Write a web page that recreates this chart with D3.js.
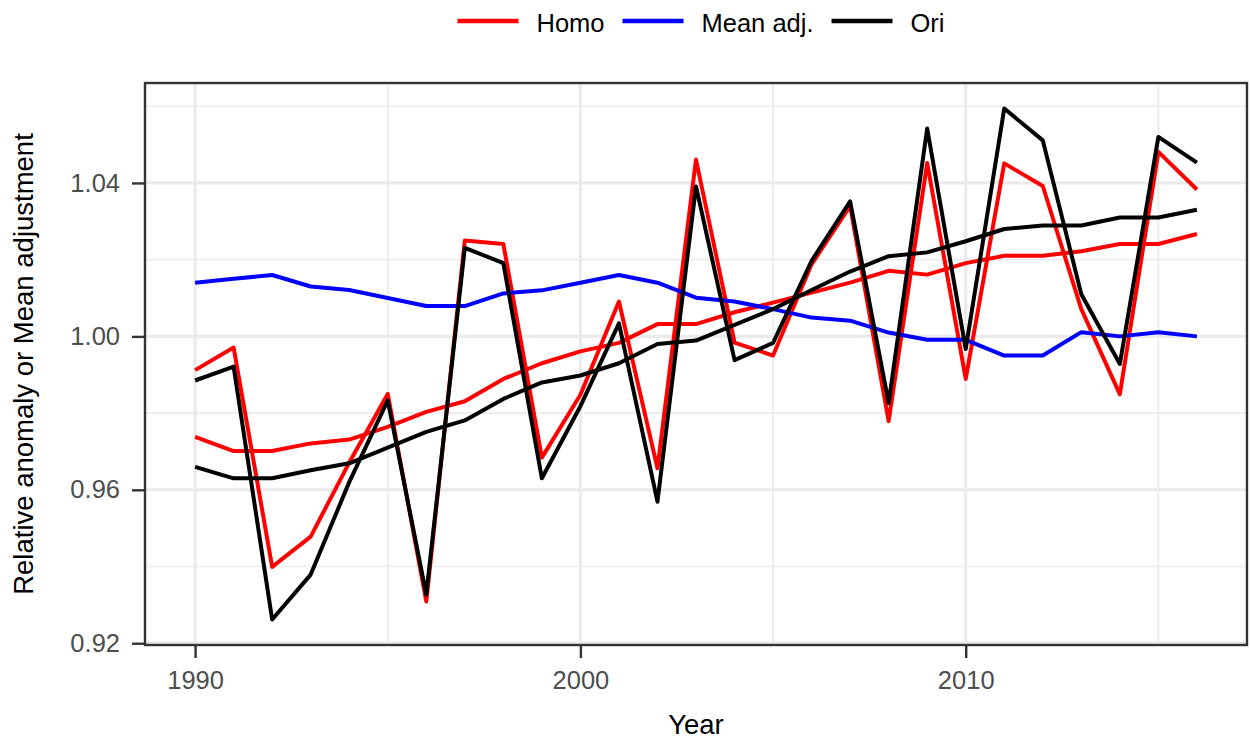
<!DOCTYPE html>
<html>
<head>
<meta charset="utf-8">
<script src="https://cdn.jsdelivr.net/npm/d3@7"></script>
<style>
  body { margin: 0; background: #fff; }
  text { font-family: "Liberation Sans", Arial, Helvetica, sans-serif; }
</style>
</head>
<body>
<svg id="chart"></svg>
<script>
const years = [1990, 1991, 1992, 1993, 1994, 1995, 1996, 1997, 1998, 1999,
  2000, 2001, 2002, 2003, 2004, 2005, 2006, 2007, 2008, 2009,
  2010, 2011, 2012, 2013, 2014, 2015, 2016];

const homo = [0.9912, 0.9971, 0.9399, 0.9478, 0.9671, 0.9850, 0.9309, 1.0250, 1.0241, 0.9684,
  0.9848, 1.0091, 0.9656, 1.0461, 0.9984, 0.9950, 1.0188, 1.0340, 0.9779, 1.0452,
  0.9889, 1.0451, 1.0392, 1.0071, 0.9849, 1.0481, 1.0383];
const homoTrend = [0.9738, 0.9701, 0.9701, 0.9721, 0.9731, 0.9764, 0.9803, 0.9831, 0.9889, 0.9930,
  0.9961, 0.9983, 1.0032, 1.0032, 1.0063, 1.0088, 1.0114, 1.0140, 1.0171, 1.0161,
  1.0191, 1.0210, 1.0210, 1.0222, 1.0241, 1.0241, 1.0267];
const ori = [0.9885, 0.9921, 0.9262, 0.9379, 0.9620, 0.9833, 0.9327, 1.0231, 1.0191, 0.9630,
  0.9818, 1.0034, 0.9569, 1.0391, 0.9938, 0.9983, 1.0197, 1.0352, 0.9826, 1.0542,
  0.9967, 1.0594, 1.0511, 1.0110, 0.9928, 1.0520, 1.0453];
const oriTrend = [0.9660, 0.9630, 0.9630, 0.9651, 0.9669, 0.9710, 0.9751, 0.9781, 0.9837, 0.9880,
  0.9898, 0.9930, 0.9980, 0.9989, 1.0030, 1.0071, 1.0121, 1.0169, 1.0209, 1.0219,
  1.0248, 1.0280, 1.0289, 1.0289, 1.0310, 1.0310, 1.0330];
const meanAdj = [1.0140, 1.0150, 1.0160, 1.0130, 1.0121, 1.0100, 1.0079, 1.0079, 1.0112, 1.0120,
  1.0140, 1.0160, 1.0140, 1.0101, 1.0091, 1.0071, 1.0049, 1.0041, 1.0010, 0.9991,
  0.9991, 0.9950, 0.9950, 1.0011, 1.0000, 1.0011, 1.0000];

const seriesNames = ["Homo", "Mean adj.", "Ori"];
const seriesColors = ["#FF0000", "#0000FF", "#000000"];

const xTicks = [1990, 2000, 2010];
const xMinor = [1995, 2005, 2015];
const yTicks = [0.92, 0.96, 1.00, 1.04];
const yMinor = [0.94, 0.98, 1.02, 1.06];

// draw order: red, blue, black
const lines = [
  { name: "Homo", values: homo },
  { name: "Homo", values: homoTrend },
  { name: "Mean adj.", values: meanAdj },
  { name: "Ori", values: ori },
  { name: "Ori", values: oriTrend }
];

const width = 1250;
const height = 745;
const margin = { top: 83, right: 3, bottom: 100, left: 145 };

const svg = d3.select("#chart")
  .attr("width", width)
  .attr("height", height);

// ggplot style 5% expansion
function expand(ext) {
  const pad = (ext[1] - ext[0]) * 0.05;
  return [ext[0] - pad, ext[1] + pad];
}

const x = d3.scaleLinear()
  .domain(expand(d3.extent(years)))
  .range([margin.left, width - margin.right]);

const y = d3.scaleLinear()
  .domain(expand(d3.extent(lines.flatMap(l => l.values))))
  .range([height - margin.bottom, margin.top]);

const color = d3.scaleOrdinal().domain(seriesNames).range(seriesColors);

// grid
const grid = svg.append("g");
grid.selectAll(".ymin").data(yMinor).enter().append("line")
  .attr("x1", margin.left).attr("x2", width - margin.right)
  .attr("y1", d => y(d)).attr("y2", d => y(d))
  .attr("stroke", "#EBEBEB").attr("stroke-width", 1.7);
grid.selectAll(".xmin").data(xMinor).enter().append("line")
  .attr("y1", margin.top).attr("y2", height - margin.bottom)
  .attr("x1", d => x(d)).attr("x2", d => x(d))
  .attr("stroke", "#EBEBEB").attr("stroke-width", 1.7);
grid.selectAll(".ymaj").data(yTicks).enter().append("line")
  .attr("x1", margin.left).attr("x2", width - margin.right)
  .attr("y1", d => y(d)).attr("y2", d => y(d))
  .attr("stroke", "#EBEBEB").attr("stroke-width", 3.3);
grid.selectAll(".xmaj").data(xTicks).enter().append("line")
  .attr("y1", margin.top).attr("y2", height - margin.bottom)
  .attr("x1", d => x(d)).attr("x2", d => x(d))
  .attr("stroke", "#EBEBEB").attr("stroke-width", 3.3);

// lines
const line = d3.line()
  .x((d, i) => x(years[i]))
  .y(d => y(d));

svg.append("g")
  .selectAll("path")
  .data(lines)
  .enter()
  .append("path")
  .attr("d", d => line(d.values))
  .attr("fill", "none")
  .attr("stroke", d => color(d.name))
  .attr("stroke-width", 4)
  .attr("stroke-linejoin", "round");

// panel border
svg.append("rect")
  .attr("x", margin.left)
  .attr("y", margin.top)
  .attr("width", width - margin.left - margin.right)
  .attr("height", height - margin.top - margin.bottom)
  .attr("fill", "none")
  .attr("stroke", "#333333")
  .attr("stroke-width", 2.4);

// axes
const xAxis = svg.append("g")
  .attr("transform", `translate(0,${height - margin.bottom})`)
  .call(d3.axisBottom(x).tickValues(xTicks).tickFormat(d3.format("d"))
    .tickSize(13).tickPadding(13).tickSizeOuter(0));
const yAxis = svg.append("g")
  .attr("transform", `translate(${margin.left},0)`)
  .call(d3.axisLeft(y).tickValues(yTicks).tickFormat(d3.format(".2f"))
    .tickSize(13).tickPadding(12).tickSizeOuter(0));

[xAxis, yAxis].forEach(ax => {
  ax.select(".domain").remove();
  ax.selectAll(".tick line").attr("stroke", "#333333").attr("stroke-width", 2.4);
  ax.selectAll(".tick text")
    .attr("fill", "#4D4D4D")
    .style("font-size", "25.5px");
});

// axis titles
svg.append("text")
  .attr("x", (margin.left + width - margin.right) / 2)
  .attr("y", 734)
  .attr("text-anchor", "middle")
  .style("font-size", "27.5px")
  .text("Year");

svg.append("text")
  .attr("transform", `translate(33,${(margin.top + height - margin.bottom) / 2}) rotate(-90)`)
  .attr("text-anchor", "middle")
  .style("font-size", "27.5px")
  .text("Relative anomaly or Mean adjustment");

// legend
const legend = svg.append("g");
const keyW = 61, gap = 18;
let cursor = 0;
const items = seriesNames.map(name => {
  const g = legend.append("g");
  g.append("line")
    .attr("x1", 0).attr("x2", keyW)
    .attr("y1", 21).attr("y2", 21)
    .attr("stroke", color(name))
    .attr("stroke-width", 4.5);
  const t = g.append("text")
    .attr("x", keyW + gap)
    .attr("y", 32)
    .style("font-size", "25.5px")
    .text(name);
  const w = keyW + gap + t.node().getComputedTextLength();
  g.attr("transform", `translate(${cursor},0)`);
  cursor += w + gap;
  return g;
});
const legendW = cursor - gap;
legend.attr("transform", `translate(${701 - legendW / 2},0)`);
</script>
</body>
</html>
